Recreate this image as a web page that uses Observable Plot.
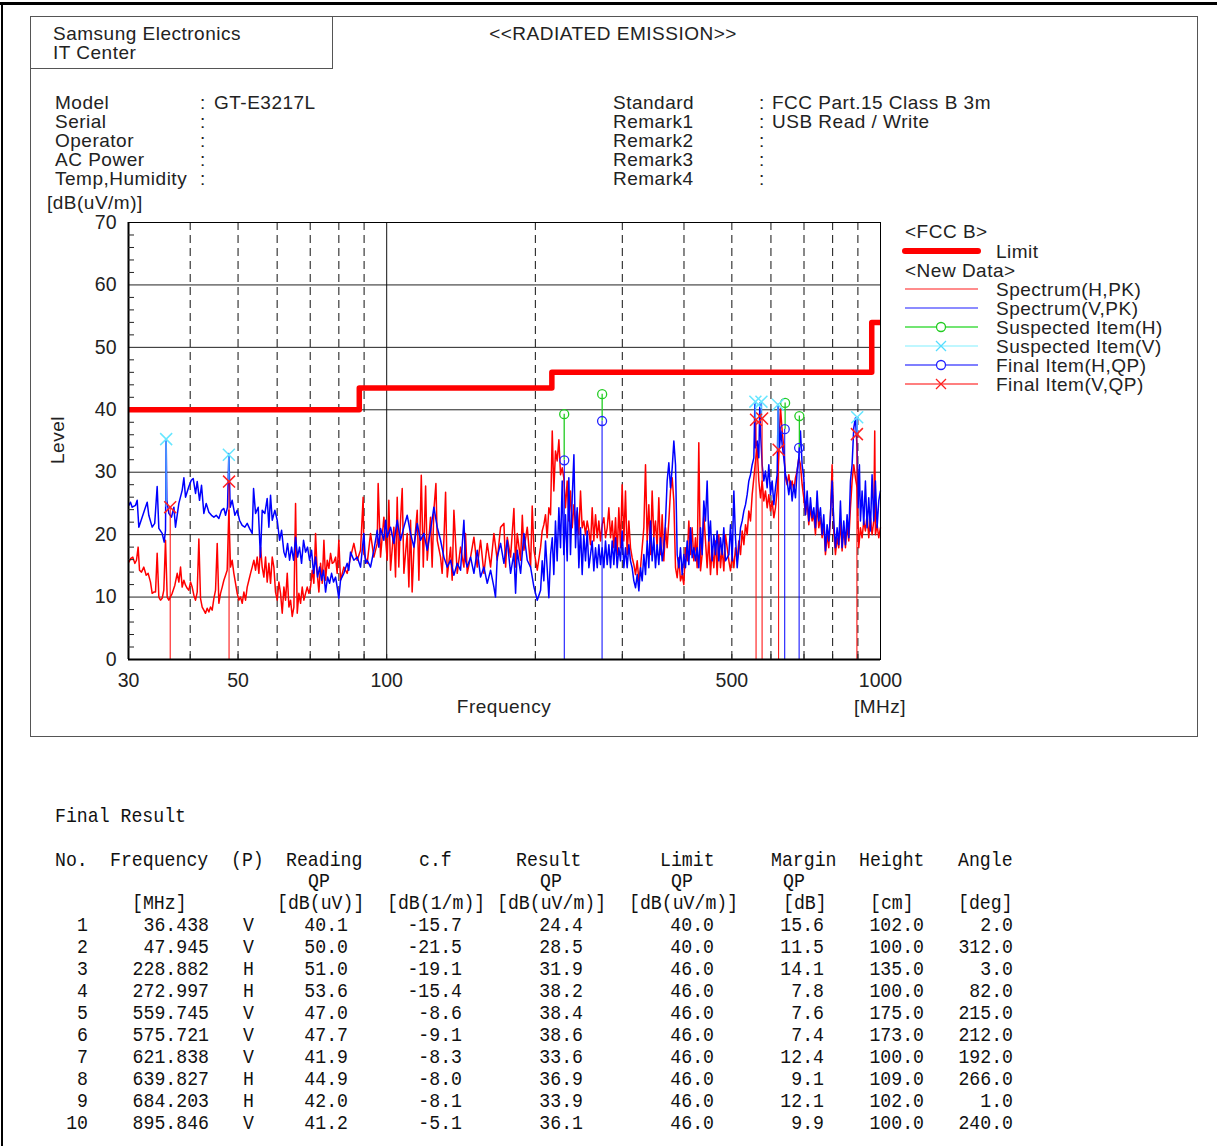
<!DOCTYPE html>
<html><head><meta charset="utf-8">
<script src="https://cdn.jsdelivr.net/npm/d3@7"></script>
<script src="https://cdn.jsdelivr.net/npm/@observablehq/plot@0.6"></script>
<style>
body{margin:0;background:#fff;}
#page{position:relative;width:1217px;height:1146px;overflow:hidden;font-family:"Liberation Sans",Arial,sans-serif;color:#222;background:#fff;}
.t{position:absolute;line-height:17px;height:17px;white-space:pre;letter-spacing:0.5px;}
.m{position:absolute;line-height:1;white-space:pre;font-family:"Liberation Mono",monospace;font-size:18.2px;color:#111;}
</style></head><body><div id="page"></div>
<script>
// ---------- DATA ----------
const headerLeft = ["Model","Serial","Operator","AC Power","Temp,Humidity"];
const headerLeftVal = ["GT-E3217L","","","",""];
const headerRight = ["Standard","Remark1","Remark2","Remark3","Remark4"];
const headerRightVal = ["FCC Part.15 Class B 3m","USB Read / Write","","",""];

const yTicks = [0,10,20,30,40,50,60,70];
const gridLevels = [10,20,30,40,50,60];
const minorLevels = [2,4,6,8,12,14,16,18,22,24,26,28,32,34,36,38,42,44,46,48,52,54,56,58,62,64,66,68];
const xTickLabels = [30,50,100,500,1000];
const dashedFreqs = [40,50,60,70,80,90,200,300,400,500,600,700,800,900];
const solidFreqs = [100];
const xMinor = [40,50,60,70,80,90,100,200,300,400,500,600,700,800,900];

const limitFreq  = [30,88,88,216,216,960,960,1000];
const limitLevel = [40,40,43.5,43.5,46,46,54,54];

// Spectrum(H,PK) [MHz, dB(uV/m)]
const specH = [
[30.05,15.6],[30.33,16.2],[30.61,16.4],[30.9,15.4],[31.14,15.9],[31.38,18.0],[31.58,14.3],[31.87,14.0],[32.22,14.8],[32.58,13.5],[32.88,13.8],[33.24,12.4],[33.5,10.6],[33.76,10.8],[34.03,10.8],[34.29,17.0],[34.56,10.0],[34.83,9.5],[35.1,9.8],[35.37,11.1],[35.65,19.1],[35.93,10.0],[36.21,9.5],[36.78,10.6],[37.24,11.9],[37.65,13.8],[37.94,12.4],[38.24,14.8],[38.53,11.6],[38.84,12.7],[39.14,11.9],[39.45,11.4],[39.75,11.1],[40.06,12.4],[40.37,11.6],[40.69,10.3],[41.01,9.5],[41.33,10.8],[41.65,19.3],[41.97,9.8],[42.3,8.4],[42.63,7.9],[42.96,7.4],[43.3,8.2],[43.64,7.6],[43.98,8.4],[44.32,7.9],[44.67,9.8],[45.02,11.1],[45.37,18.6],[45.72,9.0],[46.08,10.6],[46.44,11.6],[46.8,12.7],[47.17,13.5],[47.53,14.3],[47.9,23.9],[48.27,14.8],[48.65,15.9],[49.03,13.8],[49.42,12.2],[49.8,10.6],[50.19,9.5],[50.58,10.0],[50.98,9.0],[51.38,10.8],[51.78,9.5],[52.18,11.6],[52.59,12.7],[53.0,13.8],[53.41,14.8],[53.83,15.9],[54.25,14.3],[54.67,16.4],[55.1,13.8],[55.53,18.0],[55.96,14.8],[56.4,13.2],[56.84,16.4],[57.28,12.4],[57.73,15.4],[58.18,12.2],[58.64,16.4],[59.09,14.8],[59.55,10.8],[60.02,9.5],[60.49,12.4],[60.96,10.6],[61.44,7.4],[61.92,11.6],[62.4,9.5],[62.89,13.8],[63.38,8.4],[63.87,9.5],[64.37,6.9],[64.87,8.4],[65.38,25.0],[65.89,7.4],[66.4,10.6],[66.92,9.0],[67.44,11.6],[67.97,9.5],[68.5,10.6],[69.03,11.6],[69.57,10.6],[70.11,11.6],[70.66,14.3],[71.21,12.2],[71.77,20.2],[72.33,13.8],[72.9,10.8],[73.47,15.4],[74.04,12.2],[74.62,19.1],[75.2,12.7],[75.79,15.9],[76.38,14.6],[76.97,17.0],[77.57,15.4],[78.18,15.6],[78.79,16.4],
[79.38,13.8],[80.0,19.1],[80.63,12.7],[81.89,14.8],[83.17,13.8],[84.48,16.4],[85.8,18.6],[87.15,15.9],[88.51,17.5],[89.6,26.0],[89.9,17.0],[91.31,15.4],[92.74,20.2],[94.19,16.4],[95.67,18.6],[96.1,28.2],[97.17,16.4],[98.69,22.8],[100.24,15.9],[101.0,25.5],[101.81,14.3],[103.4,21.2],[104.2,13.2],[105.02,26.0],[105.8,14.8],[106.67,22.3],[107.5,27.4],[108.34,13.8],[110.04,20.2],[110.9,11.6],[111.76,22.3],[112.6,10.8],[113.51,17.5],[115.29,23.9],[116.2,12.7],[117.5,29.5],[118.6,14.8],[119.9,27.8],[120.8,15.9],[122.69,22.8],[123.6,14.8],[124.61,23.9],[125.8,28.2],[126.57,19.1],[128.55,16.4],[129.5,13.8],[130.56,19.1],[131.6,26.8],[132.61,13.2],[134.69,18.0],[135.7,12.7],[136.8,23.9],[138.94,13.8],[141.12,18.0],[143.33,14.8],[144.4,20.2],[145.58,13.8],[147.86,16.4],[150.18,19.6],[152.53,14.8],[154.92,19.1],[157.35,13.8],[159.81,18.6],[162.32,14.8],[164.86,20.2],[167.44,15.9],[170.07,21.2],[172.73,21.8],[174.1,14.8],[175.44,19.6],[178.19,16.4],[180.98,24.2],[182.4,14.8],[183.82,20.2],[186.7,15.9],[188.2,23.1],[189.62,17.5],[192.59,21.2],[195.61,14.8],[197.1,24.6],[198.68,17.5],[201.79,14.3],[204.95,18.0],
[206.5,20.6],[208.1,21.6],[209.7,23.2],[211.3,19.5],[213.0,24.3],[214.7,23.2],[216.4,36.6],[218.0,27.0],[219.7,33.4],[221.4,31.8],[223.2,35.2],[224.9,29.6],[226.7,30.7],[228.4,29.1],[230.2,24.3],[232.0,28.6],[233.8,22.2],[235.6,27.0],[237.5,21.1],[239.4,24.8],[241.2,21.6],[243.1,23.8],[245.0,20.0],[246.9,27.0],[248.8,21.1],[250.7,22.2],[252.7,20.0],[254.7,22.2],[256.7,20.6],[258.7,18.4],[260.7,24.3],[262.7,19.0],[264.8,23.2],[266.9,19.5],[268.9,22.2],[271.0,19.0],[273.1,21.6],[275.3,22.7],[277.4,19.5],[279.6,21.1],[281.8,24.3],[284.0,19.5],[286.2,22.2],[288.4,17.9],[290.7,22.7],[292.9,16.8],[295.2,24.3],[297.5,17.9],[299.8,28.0],[302.2,19.0],[304.5,27.0],[306.9,16.8],[309.3,22.2],[311.7,17.9],[314.1,16.3],[316.6,15.2],[319.1,13.6],[321.6,15.8],[324.1,12.6],[326.6,14.7],[329.1,17.9],[331.7,21.1],[334.3,31.2],[336.9,19.0],[339.5,24.8],[342.2,16.8],[344.8,27.0],[347.5,19.5],[350.2,22.2],[352.9,17.9],[355.7,25.9],[358.5,16.8],[361.3,23.2],[364.1,15.8],[367.0,21.1],[369.8,17.9],[372.7,22.2],[375.6,27.0],[378.6,29.1],[381.5,25.4],[384.5,14.7],[387.5,13.1],[390.5,16.3],[393.5,12.6],[396.6,13.6],[399.7,12.0],[402.8,17.9],[406.0,15.8],[409.1,22.2],[412.3,16.8],[415.5,21.1],[418.8,15.8],[422.0,19.5],[425.3,14.7],[428.6,34.7],[432.0,14.2],[435.3,16.8],[438.7,23.2],[442.2,19.0],[445.6,14.7],[449.1,19.5],[452.6,13.6],[456.1,17.9],[459.7,14.7],[463.3,19.0],[466.9,13.6],[470.5,20.0],[474.2,14.7],[477.9,17.9],[481.6,14.2],[485.4,20.0],
[493.1,15.8],[496.9,14.2],[500.8,16.8],[504.7,14.7],[508.6,17.9],[512.6,15.8],[516.6,19.0],[520.6,16.8],[524.7,20.6],[528.8,18.4],[532.9,21.6],[537.0,20.0],[541.2,23.8],[545.4,22.2],[549.7,26.4],[554.0,29.1],[558.3,31.8],[562.7,33.9],[567.0,28.6],[571.5,25.9],[575.9,28.6],[580.4,25.4],[584.9,27.0],[589.5,24.3],[594.1,26.4],[598.7,23.8],[603.4,25.4],[608.1,22.7],[612.8,24.3],[617.6,27.0],[622.4,32.8],[627.3,40.3],[632.2,36.6],[637.1,33.9],[642.1,29.1],[647.1,28.0],[652.1,29.6],[657.2,27.5],[662.3,28.6],[667.5,27.0],[672.7,29.1],[677.9,30.2],[683.2,32.3],[688.5,31.2],[693.9,28.0],[699.3,25.9],[704.8,23.2],[710.3,25.4],[715.8,21.6],[721.4,24.3],[727.0,22.2],[732.7,23.2],[738.4,20.0],[744.1,24.8],[749.9,21.1],[755.8,22.7],[761.7,19.5],[767.6,21.6],[773.6,16.8],[779.6,20.0],[785.7,17.9],[791.8,22.7],[798.0,31.2],[804.2,20.6],[810.5,16.8],[816.8,19.5],[823.2,17.9],[829.6,22.2],[836.1,17.4],[842.6,21.1],[849.2,17.9],[855.8,21.6],[862.5,19.0],[869.2,24.3],[876.0,28.6],[882.8,31.2],[889.7,29.1],[896.6,27.5],[903.6,17.9],[910.7,21.1],[917.8,19.5],[924.9,22.2],[932.1,20.6],[939.4,23.2],[946.7,19.5],[954.1,22.7],[961.5,20.0],[969.0,22.2],[973.5,36.6],[976.6,20.0],[984.2,21.6],[991.9,19.5],[999.6,21.1]
];

// Spectrum(V,PK) [MHz, dB(uV/m)]
const specV = [
[30.05,24.7],[30.28,25.2],[30.52,24.4],[31.0,24.7],[31.24,25.5],[31.48,21.2],[31.97,22.8],[32.22,23.6],[32.73,25.2],[32.98,23.1],[33.5,21.2],[33.9,21.8],[34.29,27.7],[34.56,21.0],[35.1,20.2],[35.43,18.8],[35.65,20.7],[35.76,35.3],[35.87,25.5],[36.21,23.4],[36.66,22.8],[37.07,24.4],[37.35,21.2],[37.94,25.0],[38.53,27.1],[38.84,29.1],[39.14,26.0],[39.75,27.7],[40.2,28.7],[40.56,29.0],[41.01,26.6],[41.33,28.5],[41.78,25.5],[42.17,27.9],[42.63,23.4],[43.1,25.0],[43.64,23.6],[44.18,23.1],[44.67,22.8],[45.16,23.1],[45.72,22.6],[46.3,23.9],[46.8,24.2],[47.17,23.1],[47.6,24.4],[47.9,33.0],[48.2,24.4],[48.65,25.5],[49.27,23.1],[49.8,23.9],[50.35,22.3],[50.98,21.5],[51.62,21.2],[52.18,21.8],[52.75,21.0],[53.41,20.2],[53.75,27.4],[54.25,23.4],[54.93,24.4],[55.5,16.4],[55.96,23.9],[56.66,23.4],[57.28,25.8],[57.73,21.2],[58.18,26.3],[58.64,22.3],[59.37,23.9],[60.02,22.3],[60.68,19.1],[61.25,20.7],[61.92,17.2],[62.4,16.4],[62.99,18.6],[63.58,15.9],[64.17,18.0],[64.77,15.9],[65.38,19.6],[66.0,16.4],[66.6,18.0],[67.23,15.4],[67.86,19.1],[68.5,17.2],[69.14,18.0],[69.79,15.9],[70.44,17.5],[71.1,13.8],[71.77,16.4],[72.45,13.2],[73.13,14.8],[73.81,12.7],[74.5,14.3],[75.2,10.8],[75.9,13.2],[76.61,12.2],[77.33,13.8],[78.05,12.4],[78.79,13.2],
[79.38,11.6],[80.0,9.8],[80.63,12.7],[81.89,13.8],[83.17,15.4],[83.8,14.3],[84.48,17.2],[85.8,15.9],[87.15,16.4],[88.51,14.8],[89.9,20.2],[90.6,15.4],[91.31,15.9],[92.74,14.8],[94.19,17.5],[95.67,20.7],[96.4,18.0],[97.17,21.0],[98.69,19.1],[99.5,22.3],[100.24,19.6],[101.81,21.2],[103.4,18.6],[105.02,22.3],[106.67,19.1],[108.34,21.2],[110.04,23.1],[111.76,20.2],[113.51,18.0],[115.29,21.8],[117.1,19.1],[118.93,20.2],[120.8,17.5],[122.69,20.7],[124.61,24.4],[126.57,21.2],[128.55,19.1],[130.56,16.4],[132.61,14.8],[134.69,15.9],[136.8,13.5],[138.94,15.4],[141.12,14.3],[143.33,22.3],[144.4,15.9],[145.58,14.8],[147.86,16.4],[150.18,13.8],[152.53,17.5],[154.92,13.2],[157.35,14.8],[159.81,12.2],[162.32,14.3],[164.86,11.6],[166.1,10.0],[167.44,16.4],[170.07,18.6],[172.73,15.4],[175.44,19.1],[178.19,13.8],[180.98,17.0],[182.4,10.6],[183.82,17.5],[186.7,13.8],[189.62,20.2],[192.59,15.9],[195.61,14.8],[198.68,11.6],[201.79,9.5],[204.95,11.1],
[206.5,15.8],[208.1,12.6],[209.7,19.0],[211.3,14.7],[213.0,9.9],[214.7,16.8],[216.4,19.5],[218.0,13.6],[219.7,22.2],[221.4,15.8],[223.2,24.3],[224.9,17.9],[226.7,28.6],[228.4,16.8],[230.2,23.2],[232.0,15.8],[233.8,29.1],[235.6,16.8],[237.5,25.9],[239.4,32.8],[241.2,17.9],[243.1,24.3],[245.0,14.7],[246.9,21.1],[248.8,13.6],[250.7,20.0],[252.7,15.8],[254.7,20.6],[256.7,14.7],[258.7,16.8],[260.7,19.0],[262.7,14.2],[264.8,17.9],[266.9,14.7],[268.9,18.4],[271.0,15.2],[273.1,17.9],[275.3,14.7],[277.4,19.0],[279.6,15.2],[281.8,18.4],[284.0,14.7],[286.2,19.0],[288.4,15.2],[290.7,19.5],[292.9,14.7],[295.2,17.9],[297.5,15.8],[299.8,20.6],[302.2,14.7],[304.5,17.9],[306.9,14.7],[309.3,18.4],[311.7,15.8],[314.1,14.7],[316.6,12.6],[319.1,11.5],[321.6,13.6],[324.1,11.0],[326.6,14.7],[329.1,12.6],[331.7,16.8],[334.3,13.6],[336.9,19.0],[339.5,14.7],[342.2,22.2],[344.8,15.8],[347.5,19.5],[350.2,14.7],[352.9,18.4],[355.7,15.2],[358.5,19.5],[361.3,15.8],[364.1,17.9],[367.0,22.2],[369.8,28.6],[372.7,31.5],[375.6,27.5],[378.6,30.7],[381.5,35.0],[384.5,31.2],[387.5,16.8],[390.5,14.7],[393.5,17.9],[396.6,13.6],[399.7,16.8],[402.8,14.7],[406.0,19.0],[409.1,15.2],[412.3,21.1],[415.5,16.3],[418.8,17.9],[422.0,15.8],[425.3,17.9],[428.6,14.7],[432.0,21.1],[435.3,16.8],[438.7,25.4],[442.2,22.2],[445.6,28.6],[449.1,19.0],[452.6,22.2],[456.1,15.8],[459.7,20.0],[463.3,16.8],[466.9,20.6],[470.5,15.8],[474.2,19.5],[477.9,16.8],[481.6,21.1],[485.4,15.8],
[493.1,16.8],[496.9,21.6],[500.8,15.8],[504.7,27.0],[508.6,19.5],[512.6,14.7],[516.6,17.9],[520.6,21.1],[524.7,22.2],[528.8,23.8],[532.9,24.8],[537.0,26.4],[541.2,28.6],[545.4,29.6],[549.7,31.2],[554.0,32.3],[556.6,40.9],[558.3,33.9],[562.7,35.0],[567.0,32.3],[569.7,41.1],[572.3,35.5],[575.9,31.2],[580.4,28.6],[584.9,30.2],[589.5,27.5],[594.1,31.2],[598.7,26.4],[603.4,28.6],[608.1,24.8],[612.8,27.5],[617.6,29.6],[620.5,40.9],[624.4,33.9],[628.3,36.6],[632.2,34.4],[637.1,32.3],[642.1,29.6],[647.1,28.6],[652.1,26.4],[657.2,28.6],[662.3,25.4],[667.5,28.0],[672.7,25.9],[677.9,30.2],[683.2,32.3],[688.5,36.6],[693.9,31.2],[699.3,29.1],[704.8,23.2],[710.3,27.0],[715.8,22.2],[721.4,25.9],[727.0,22.7],[732.7,24.3],[738.4,21.1],[744.1,27.0],[749.9,22.2],[755.8,24.3],[761.7,20.0],[767.6,23.2],[773.6,17.4],[779.6,21.6],[785.7,19.0],[791.8,23.2],[798.0,28.6],[804.2,22.2],[810.5,17.9],[816.8,21.1],[823.2,18.4],[829.6,25.4],[836.1,17.9],[842.6,22.2],[849.2,18.4],[855.8,23.2],[862.5,19.5],[869.2,28.6],[876.0,31.2],[882.8,37.1],[889.7,38.7],[896.6,33.9],[900.8,24.3],[906.4,31.2],[910.7,22.2],[917.8,27.0],[924.9,21.6],[932.1,28.6],[939.4,21.1],[946.7,25.9],[954.1,20.6],[961.5,29.6],[969.0,22.2],[976.6,28.6],[984.2,21.1],[991.9,25.4],[999.6,27.0]
];

// Final result table
const itemNo      = [1,2,3,4,5,6,7,8,9,10];
const itemFreq    = [36.438,47.945,228.882,272.997,559.745,575.721,621.838,639.827,684.203,895.846];
const itemPol     = ["V","V","H","H","V","V","V","H","H","V"];
const itemReading = [40.1,50.0,51.0,53.6,47.0,47.7,41.9,44.9,42.0,41.2];
const itemCf      = [-15.7,-21.5,-19.1,-15.4,-8.6,-9.1,-8.3,-8.0,-8.1,-5.1];
const itemResult  = [24.4,28.5,31.9,38.2,38.4,38.6,33.6,36.9,33.9,36.1];
const itemLimit   = [40.0,40.0,46.0,46.0,46.0,46.0,46.0,46.0,46.0,46.0];
const itemMargin  = [15.6,11.5,14.1,7.8,7.6,7.4,12.4,9.1,12.1,9.9];
const itemHeight  = [102.0,100.0,135.0,100.0,175.0,173.0,100.0,109.0,102.0,100.0];
const itemAngle   = [2.0,312.0,3.0,82.0,215.0,212.0,192.0,266.0,1.0,240.0];
// Suspected items (peak search)
const suspFreq  = [35.76,47.90,228.8,273.1,558.0,574.0,620.0,641.0,685.0,897.0];
const suspLevel = [35.3,32.8,39.3,42.5,41.3,41.3,40.8,41.1,39.0,38.8];

const legendItems = ["Spectrum(H,PK)","Spectrum(V,PK)","Suspected Item(H)","Suspected Item(V)","Final Item(H,QP)","Final Item(V,QP)"];

// ---------- LAYOUT ----------
const page = document.getElementById("page");
function box(l,t,w,h,css){const d=document.createElement("div");d.style.cssText=`position:absolute;left:${l}px;top:${t}px;width:${w}px;height:${h}px;${css}`;page.appendChild(d);return d;}
function txt(s,x,y,{anchor="start",size=19,cls="t",css=""}={}){
  const d=document.createElement("div");d.className=cls;d.textContent=s;
  if(cls==="t") d.style.fontSize=size+"px";
  const tx = anchor==="middle"?"-50%":anchor==="end"?"-100%":"0";
  d.style.left=x+"px";d.style.top=y+"px";
  d.style.transform=`translate(${tx},-50%) ${css}`;
  page.appendChild(d);return d;
}
// borders
box(0,2,1217,3,"background:#000");
box(1,2,2,1144,"background:#000");
box(30,16,1166,719,"border:1.5px solid #555;box-sizing:content-box");
box(30,16,302,52,"border-right:1.5px solid #555;border-bottom:1.5px solid #555");

txt("Samsung Electronics",53,33);
txt("IT Center",53,52);
txt("<<RADIATED EMISSION>>",613,33,{anchor:"middle"});
headerLeft.forEach((s,i)=>{const y=102+19*i;txt(s,55,y);txt(":",200,y);if(headerLeftVal[i])txt(headerLeftVal[i],214,y);});
headerRight.forEach((s,i)=>{const y=102+19*i;txt(s,613,y);txt(":",759,y);if(headerRightVal[i])txt(headerRightVal[i],772,y);});
txt("[dB(uV/m)]",47,202);
txt("Level",57,440,{anchor:"middle",css:"rotate(-90deg)"});
txt("Frequency",504,706,{anchor:"middle"});
txt("[MHz]",880,706,{anchor:"middle"});

// legend
txt("<FCC B>",905,231);
txt("Limit",996,251);
txt("<New Data>",905,270);
legendItems.forEach((s,i)=>txt(s,996,289+19*i));
const lg = d3.select(page).append("svg").attr("width",100).attr("height",160)
  .style("position","absolute").style("left","895px").style("top","240px");
lg.append("line").attr("x1",10).attr("x2",83).attr("y1",11).attr("y2",11).attr("stroke","#ff0000").attr("stroke-width",6).attr("stroke-linecap","round");
const lcol=["#ff6666","#6666ff","#44dd44","#aaf4ff","#5555ff","#ff5555"];
const mcol=[null,null,"#22cc22","#55ddff","#2222ff","#ff2020"];
const msym=[null,null,"circle","times","circle","times"];
lcol.forEach((c,i)=>{const y=49+19*i;
  lg.append("line").attr("x1",10).attr("x2",83).attr("y1",y).attr("y2",y).attr("stroke",c).attr("stroke-width",1.3);
  if(msym[i]==="circle") lg.append("circle").attr("cx",46).attr("cy",y).attr("r",4.5).attr("fill","#fff").attr("stroke",mcol[i]).attr("stroke-width",1.3);
  if(msym[i]==="times") lg.append("path").attr("d",`M${41},${y-5}L${51},${y+5}M${41},${y+5}L${51},${y-5}`).attr("stroke",mcol[i]).attr("stroke-width",1.3);
});

// ---------- CHART ----------
const H = specH.map(([f,v])=>({f,v}));
const V = specV.map(([f,v])=>({f,v}));
const limit = limitFreq.map((f,i)=>({f,v:limitLevel[i]}));
const items = itemFreq.map((f,i)=>({f,pol:itemPol[i],result:itemResult[i],sf:suspFreq[i],sl:suspLevel[i]}));
const itemsH = items.filter(d=>d.pol==="H"), itemsV = items.filter(d=>d.pol==="V");

const chart = Plot.plot({
  width:870,height:530,marginLeft:98,marginRight:20,marginTop:22,marginBottom:71,
  x:{type:"log",domain:[30,1000]},
  y:{domain:[0,70]},
  style:{fontFamily:"'Liberation Sans',Arial,sans-serif",fontSize:"19.5px",color:"#222",background:"none",overflow:"visible"},
  marks:[
    Plot.ruleY(gridLevels,{stroke:"#222",strokeWidth:1}),
    Plot.ruleX(dashedFreqs,{stroke:"#111",strokeWidth:1,strokeDasharray:"8,5"}),
    Plot.ruleX(solidFreqs,{stroke:"#111",strokeWidth:1}),
    Plot.line(H,{x:"f",y:"v",stroke:"#ff0000",strokeWidth:1.5}),
    Plot.line(V,{x:"f",y:"v",stroke:"#0000ff",strokeWidth:1.5}),
    Plot.ruleX(itemsV,{x:"f",y1:0,y2:"result",stroke:"#ff0000",strokeWidth:1}),
    Plot.ruleX(itemsH,{x:"f",y1:0,y2:"result",stroke:"#0000ff",strokeWidth:1}),
    Plot.ruleX(itemsH,{x:"sf",y1:"result",y2:"sl",stroke:"#22cc22",strokeWidth:1.3}),
    Plot.ruleX(itemsV,{x:"sf",y1:"result",y2:"sl",stroke:"#4a9cff",strokeWidth:1.6}),
    Plot.dot(itemsH,{x:"sf",y:"sl",symbol:"circle",r:4.5,stroke:"#22cc22",fill:"none",strokeWidth:1.3}),
    Plot.dot(itemsV,{x:"sf",y:"sl",symbol:"times",r:5.5,stroke:"#66e6ff",strokeWidth:1.5}),
    Plot.dot(itemsH,{x:"f",y:"result",symbol:"circle",r:4.5,stroke:"#2222ff",fill:"none",strokeWidth:1.3}),
    Plot.dot(itemsV,{x:"f",y:"result",symbol:"times",r:5.5,stroke:"#ff2020",strokeWidth:1.5}),
    Plot.line(limit,{x:"f",y:"v",stroke:"#ff0000",strokeWidth:5.5,strokeLinejoin:"round",strokeLinecap:"butt"}),
    Plot.frame({stroke:"#000",strokeWidth:1}),
    Plot.ruleX([30],{stroke:"#000",strokeWidth:2}),
    Plot.ruleY([0],{stroke:"#000",strokeWidth:2}),
    Plot.axisY(yTicks,{anchor:"left",tickSize:0,tickPadding:12,label:null}),
    Plot.axisY(minorLevels,{anchor:"left",tickSize:-6,tickFormat:()=>"",label:null}),
    Plot.axisX(xTickLabels,{anchor:"bottom",tickSize:0,tickPadding:14,tickFormat:d=>String(d),label:null}),
    Plot.axisX(xMinor,{anchor:"bottom",tickSize:-5,tickFormat:()=>"",label:null})
  ]
});
chart.style.position="absolute";chart.style.left="30px";chart.style.top="200px";
page.appendChild(chart);

// ---------- TABLE ----------
const sy = "scaleY(1.14)";
txt("Final Result",55,816,{cls:"m",css:sy});
const hdr = [["No.",55],["Frequency",110],["(P)",231],["Reading",286],["c.f",419],["Result",516],["Limit",660],["Margin",771],["Height",859],["Angle",958]];
hdr.forEach(([s,x])=>txt(s,x,860,{cls:"m",css:sy}));
[["QP",308],["QP",540],["QP",671],["QP",783]].forEach(([s,x])=>txt(s,x,881,{cls:"m",css:sy}));
[["[MHz]",132],["[dB(uV)]",277],["[dB(1/m)]",387],["[dB(uV/m)]",497],["[dB(uV/m)]",629],["[dB]",783],["[cm]",870],["[deg]",958]].forEach(([s,x])=>txt(s,x,903,{cls:"m",css:sy}));
const cols = [
  [itemNo.map(String),88],
  [itemFreq.map(v=>v.toFixed(3)),209],
  [itemPol,254],
  [itemReading.map(v=>v.toFixed(1)),348],
  [itemCf.map(v=>v.toFixed(1)),462],
  [itemResult.map(v=>v.toFixed(1)),583],
  [itemLimit.map(v=>v.toFixed(1)),714],
  [itemMargin.map(v=>v.toFixed(1)),824],
  [itemHeight.map(v=>v.toFixed(1)),924],
  [itemAngle.map(v=>v.toFixed(1)),1013]
];
cols.forEach(([vals,xr])=>vals.forEach((s,i)=>txt(s,xr,925+22*i,{cls:"m",anchor:"end",css:sy})));
</script></body></html>
